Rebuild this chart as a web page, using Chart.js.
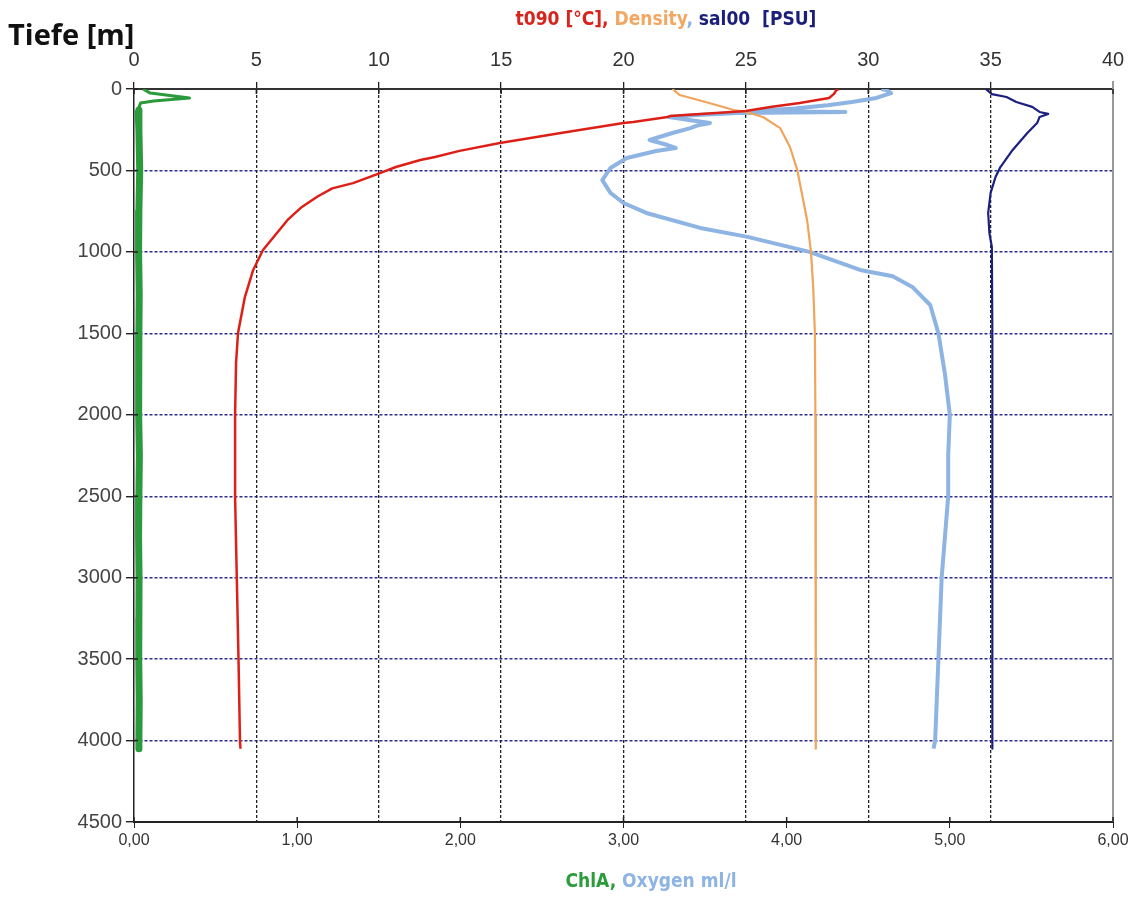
<!DOCTYPE html>
<html>
<head>
<meta charset="utf-8">
<script src="https://cdn.jsdelivr.net/npm/chart.js@4.4.1/dist/chart.umd.min.js"></script>
<style>
  body { margin: 0; background: #fff; }
  #wrap { position: relative; width: 1136px; height: 897px; }
  .lbl { position: absolute; white-space: pre; }
  #depthTitle { left: 8px; top: 14px; font: bold 29px 'Open Sans', sans-serif; color: #111; }
  #topTitle { left: 466px; width: 400px; top: 7px; text-align: center;
              font: bold 19px 'Liberation Sans Narrow', 'DejaVu Sans Condensed', sans-serif; }
  #botTitle { left: 451px; width: 400px; top: 869px; text-align: center;
              font: bold 19px 'Liberation Sans Narrow', 'DejaVu Sans Condensed', sans-serif; }
</style>
</head>
<body>
<div id="wrap">
  <canvas id="myChart"></canvas>
  <div class="lbl" id="depthTitle">Tiefe [m]</div>
  <div class="lbl" id="topTitle"><span style="color:#d8241c">t090 [°C], </span><span style="color:#f2a862">Density</span><span style="color:#8db4e2">, </span><span style="color:#1b1f7a">sal00  [PSU]</span></div>
  <div class="lbl" id="botTitle"><span style="color:#2a9d3a">ChlA, </span><span style="color:#8db4e2">Oxygen ml/l</span></div>
</div>
<script>
// depth profiles (depth in m)
const tempDepth = [0, 6, 30, 55, 86, 110, 135, 141, 166, 172, 203, 209, 268, 332, 380, 417, 436, 479, 516, 578, 610, 660, 724, 800, 884, 988, 1111, 1277, 1498, 1682, 2000, 2500, 3000, 3500, 4000, 4050];
const tempValues = [28.8, 28.7, 28.6, 28.4, 27.2, 26.0, 25.0, 24.4, 21.9, 21.8, 20.4, 20.0, 17.5, 14.95, 13.3, 12.3, 11.7, 10.7, 10.05, 8.95, 8.1, 7.5, 6.86, 6.3, 5.84, 5.27, 4.87, 4.53, 4.25, 4.17, 4.13, 4.13, 4.2, 4.27, 4.33, 4.35];

const densDepth = [0, 37, 86, 129, 141, 172, 240, 356, 497, 651, 804, 1000, 1215, 1498, 2000, 3000, 4000, 4050];
const densValues = [22.0, 22.3, 23.5, 24.5, 25.0, 25.7, 26.4, 26.8, 27.1, 27.3, 27.5, 27.66, 27.75, 27.82, 27.84, 27.85, 27.86, 27.86];

const salDepth = [0, 6, 31, 49, 80, 110, 141, 153, 172, 209, 270, 374, 479, 540, 638, 761, 884, 970, 1500, 2000, 3000, 4000, 4050];
const salValues = [34.8, 34.85, 35.05, 35.65, 36.05, 36.7, 37.0, 37.35, 37.0, 36.9, 36.5, 35.9, 35.4, 35.2, 35.0, 34.9, 34.95, 35.05, 35.07, 35.07, 35.07, 35.07, 35.07];

const oxyDepth = [0, 6, 25, 55, 80, 100, 120, 135, 141, 147, 160, 172, 190, 209, 225, 240, 270, 313, 344, 362, 381, 424, 485, 559, 638, 700, 761, 853, 908, 1000, 1111, 1150, 1215, 1326, 1500, 1750, 2000, 2250, 2500, 2750, 3000, 3250, 3500, 3750, 4000, 4050];
const oxyValues = [4.58, 4.61, 4.64, 4.55, 4.4, 4.25, 4.05, 3.8, 4.36, 3.7, 3.45, 3.28, 3.4, 3.53, 3.45, 3.41, 3.3, 3.16, 3.27, 3.32, 3.2, 3.02, 2.92, 2.87, 2.92, 3.0, 3.14, 3.47, 3.76, 4.14, 4.45, 4.65, 4.77, 4.88, 4.93, 4.97, 5.0, 4.99, 4.99, 4.97, 4.95, 4.94, 4.93, 4.92, 4.91, 4.9];

const chlDepth = [0, 25, 55, 74, 86, 129, 250, 500, 750, 1000, 1250, 1500, 1750, 2000, 2250, 2500, 2750, 3000, 3250, 3500, 3750, 4000, 4050];
const chlValues = [0.055, 0.1, 0.34, 0.12, 0.04, 0.025, 0.03, 0.035, 0.03, 0.028, 0.032, 0.03, 0.027, 0.03, 0.033, 0.03, 0.028, 0.031, 0.03, 0.029, 0.032, 0.03, 0.03];

const topTicks = [0, 5, 10, 15, 20, 25, 30, 35, 40];
const depthTicks = [0, 500, 1000, 1500, 2000, 2500, 3000, 3500, 4000, 4500];

const sans = 'Liberation Sans, Arial, sans-serif';

function pts(depths, vals) {
    return depths.map((d, i) => ({ x: vals[i], y: d }));
}

function line(label, depths, vals, color, width, axis) {
    return {
        label: label,
        data: pts(depths, vals),
        xAxisID: axis,
        yAxisID: 'y',
        borderColor: color,
        backgroundColor: color,
        borderWidth: width,
        borderJoinStyle: 'round',
        showLine: true,
        pointRadius: 0,
        tension: 0,
        fill: false
    };
}

// right frame line and the little ticks that cross the axes
const framePlugin = {
    id: 'frame',
    afterDraw(chart) {
        const { ctx, chartArea: a, scales } = chart;
        ctx.save();
        ctx.strokeStyle = '#9a9a9a';
        ctx.lineWidth = 2;
        ctx.beginPath();
        ctx.moveTo(a.right, a.top - 8);
        ctx.lineTo(a.right, a.bottom);
        ctx.stroke();
        ctx.strokeStyle = '#222';
        ctx.lineWidth = 1.5;
        ctx.beginPath();
        scales.xTop.ticks.forEach(t => {
            const x = scales.xTop.getPixelForValue(t.value);
            ctx.moveTo(x, a.top); ctx.lineTo(x, a.top + 5);
        });
        scales.xBot.ticks.forEach(t => {
            const x = scales.xBot.getPixelForValue(t.value);
            ctx.moveTo(x, a.bottom - 5); ctx.lineTo(x, a.bottom);
        });
        scales.y.ticks.forEach(t => {
            const y = scales.y.getPixelForValue(t.value);
            ctx.moveTo(a.left, y); ctx.lineTo(a.left + 4, y);
        });
        ctx.stroke();
        ctx.restore();
    }
};

const chlSet = line('ChlA', chlDepth, chlValues, '#2a9a3a', 7, 'xBot');
chlSet.segment = { borderWidth: c => c.p0DataIndex < 5 ? 3 : 7 };

const config = {
    type: 'scatter',
    data: {
        datasets: [
            line('t090', tempDepth, tempValues, '#dc2018', 2.5, 'xTop'),
            line('Density', densDepth, densValues, '#f0a45c', 2.2, 'xTop'),
            line('sal00', salDepth, salValues, '#1b1f80', 2.2, 'xTop'),
            line('Oxygen', oxyDepth, oxyValues, '#8db4e2', 4, 'xBot'),
            chlSet
        ]
    },
    options: {
        responsive: true,
        maintainAspectRatio: false,
        animation: false,
        layout: { padding: { left: 0, right: 23, top: 0, bottom: 0 } },
        plugins: { legend: { display: false }, tooltip: { enabled: false } },
        scales: {
            y: {
                type: 'linear',
                reverse: true,
                min: 0,
                max: 4500,
                afterBuildTicks: s => { s.ticks = depthTicks.map(v => ({ value: v })); },
                ticks: { color: '#444', font: { size: 20, family: sans }, padding: 4, callback: v => String(v) },
                grid: {
                    color: c => (c.tick && (c.tick.value === 0 || c.tick.value === 4500)) ? 'rgba(0,0,0,0)' : '#2e2e8e',
                    lineWidth: 1.4,
                    tickColor: '#222',
                    tickLength: 8
                },
                border: { color: '#222', width: 1.5, dash: [3, 2] },
                afterFit: s => { s.width = 134; }
            },
            xTop: {
                type: 'linear',
                position: 'top',
                min: 0,
                max: 40,
                afterBuildTicks: s => { s.ticks = topTicks.map(v => ({ value: v })); },
                ticks: { color: '#333', font: { size: 20, family: sans }, padding: 10, maxRotation: 0, callback: v => String(v) },
                grid: {
                    color: c => (c.tick && (c.tick.value === 0 || c.tick.value === 40)) ? 'rgba(0,0,0,0)' : '#222',
                    lineWidth: 1.3,
                    tickColor: '#222',
                    tickLength: 7
                },
                border: { color: '#333', width: 2, dash: [3, 2] },
                afterFit: s => { s.height = 89; }
            },
            xBot: {
                type: 'linear',
                position: 'bottom',
                min: 0,
                max: 6,
                ticks: {
                    stepSize: 1,
                    color: '#333',
                    font: { size: 16, family: sans },
                    padding: 3,
                    maxRotation: 0,
                    callback: v => v.toFixed(2).replace('.', ',')
                },
                grid: { drawOnChartArea: false, tickColor: '#222', tickLength: 6 },
                border: { color: '#222', width: 2 },
                afterFit: s => { s.height = 75; }
            }
        }
    },
    plugins: [framePlugin]
};

document.addEventListener('DOMContentLoaded', function () {
    const ctx = document.getElementById('myChart').getContext('2d');
    new Chart(ctx, config);
});
</script>
</body>
</html>
